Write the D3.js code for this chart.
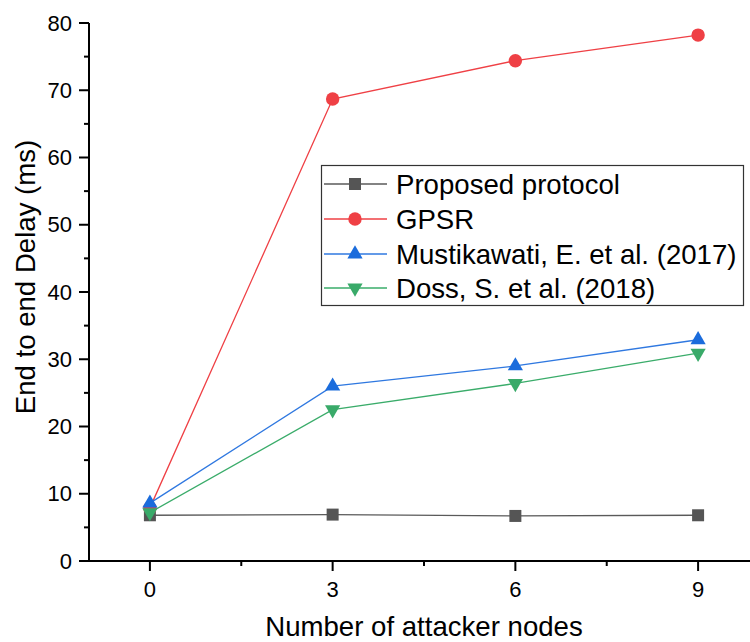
<!DOCTYPE html>
<html>
<head>
<meta charset="utf-8">
<script src="https://cdn.jsdelivr.net/npm/d3@7"></script>
<style>
  html, body { margin: 0; padding: 0; background: #fff; }
  svg { display: block; }
  svg text { font-family: Arial, "Liberation Sans", Arimo, Helvetica, sans-serif; }
</style>
</head>
<body>
<svg id="chart" width="750" height="642"></svg>
<script>
// Number of attacker nodes on the x axis
const attackers = [0, 3, 6, 9];

// End-to-end delay (ms) per protocol
const proposed    = [6.8, 6.9, 6.7, 6.8];
const gpsr        = [7.9, 68.7, 74.4, 78.2];
const mustikawati = [8.6, 26.0, 29.0, 32.9];
const doss        = [7.2, 22.5, 26.4, 30.9];

const seriesNames = [
  "Proposed protocol",
  "GPSR",
  "Mustikawati, E. et al. (2017)",
  "Doss, S. et al. (2018)"
];

const xTicks = [0, 3, 6, 9];
const xMinorTicks = [1.5, 4.5, 7.5];
const yTicks = [0, 10, 20, 30, 40, 50, 60, 70, 80];
const yMinorTicks = [5, 15, 25, 35, 45, 55, 65, 75];

const series = [
  { name: seriesNames[0], values: proposed,    color: "#555555", line: "#5a5a5a", shape: "square" },
  { name: seriesNames[1], values: gpsr,        color: "#ef4045", line: "#ef4045", shape: "circle" },
  { name: seriesNames[2], values: mustikawati, color: "#1b6cdc", line: "#2f78e0", shape: "up" },
  { name: seriesNames[3], values: doss,        color: "#39aa69", line: "#3aac6a", shape: "down" }
];

const FONT = "Arial, 'Liberation Sans', Arimo, Helvetica, sans-serif";
const svg = d3.select("#chart");

const x = d3.scaleLinear().domain([-1, 10]).range([89, 759]);
const y = d3.scaleLinear().domain([0, 80]).range([561, 23]);

// Marker path generators
function markerPath(shape) {
  if (shape === "square") return d3.symbol(d3.symbolSquare, 144)();
  if (shape === "circle") return d3.symbol(d3.symbolCircle, 142)();
  return d3.symbol(d3.symbolTriangle, 100)();
}
function markerTransform(shape, px, py) {
  return shape === "down"
    ? `translate(${px},${py}) scale(1,-1)`
    : `translate(${px},${py})`;
}

// Axes
const axisColor = "#000";
const xAxis = svg.append("g").attr("transform", `translate(0,${y(0)})`);
xAxis.append("line")
  .attr("x1", x(-1)).attr("x2", 760)
  .attr("stroke", axisColor).attr("stroke-width", 2);
xAxis.selectAll(".major").data(xTicks).join("line")
  .attr("x1", d => x(d)).attr("x2", d => x(d))
  .attr("y1", 0).attr("y2", 10)
  .attr("stroke", axisColor).attr("stroke-width", 2);
xAxis.selectAll(".minor").data(xMinorTicks).join("line")
  .attr("x1", d => x(d)).attr("x2", d => x(d))
  .attr("y1", 0).attr("y2", 5)
  .attr("stroke", axisColor).attr("stroke-width", 2);
xAxis.selectAll("text").data(xTicks).join("text")
  .attr("x", d => x(d)).attr("y", 36)
  .attr("text-anchor", "middle")
  .attr("font-family", FONT)
  .attr("font-size", 22)
  .attr("fill", "#000")
  .text(d => d);

const yAxis = svg.append("g").attr("transform", `translate(${x(-1)},0)`);
yAxis.append("line")
  .attr("y1", y(0) + 1).attr("y2", y(80))
  .attr("stroke", axisColor).attr("stroke-width", 2);
yAxis.selectAll(".major").data(yTicks).join("line")
  .attr("y1", d => y(d)).attr("y2", d => y(d))
  .attr("x1", 0).attr("x2", -10)
  .attr("stroke", axisColor).attr("stroke-width", 2);
yAxis.selectAll(".minor").data(yMinorTicks).join("line")
  .attr("y1", d => y(d)).attr("y2", d => y(d))
  .attr("x1", 0).attr("x2", -5)
  .attr("stroke", axisColor).attr("stroke-width", 2);
yAxis.selectAll("text").data(yTicks).join("text")
  .attr("x", -17).attr("y", d => y(d))
  .attr("dy", "0.35em")
  .attr("text-anchor", "end")
  .attr("font-family", FONT)
  .attr("font-size", 22)
  .attr("fill", "#000")
  .text(d => d);

// Axis titles
svg.append("text")
  .attr("x", 424).attr("y", 636)
  .attr("text-anchor", "middle")
  .attr("font-family", FONT)
  .attr("font-size", 27.6)
  .attr("fill", "#000")
  .text("Number of attacker nodes");
svg.append("text")
  .attr("transform", `translate(35,277) rotate(-90)`)
  .attr("text-anchor", "middle")
  .attr("font-family", FONT)
  .attr("font-size", 27.6)
  .attr("fill", "#000")
  .text("End to end Delay (ms)");

// Lines
const line = d3.line().x((d, i) => x(attackers[i])).y(d => y(d));
const plot = svg.append("g");
series.forEach(s => {
  plot.append("path")
    .attr("d", line(s.values))
    .attr("fill", "none")
    .attr("stroke", s.line)
    .attr("stroke-width", 1.3);
});
// Markers
series.forEach(s => {
  plot.selectAll(null).data(s.values).join("path")
    .attr("d", markerPath(s.shape))
    .attr("transform", (d, i) => markerTransform(s.shape, x(attackers[i]), y(d)))
    .attr("fill", s.color);
});

// Legend
const legend = svg.append("g");
legend.append("rect")
  .attr("x", 321.5).attr("y", 165.5)
  .attr("width", 422).attr("height", 140)
  .attr("fill", "#fff")
  .attr("stroke", "#333").attr("stroke-width", 1.2);
const rowY = [184, 219, 254, 288];
series.forEach((s, i) => {
  const g = legend.append("g");
  g.append("line")
    .attr("x1", 324).attr("x2", 387)
    .attr("y1", rowY[i]).attr("y2", rowY[i])
    .attr("stroke", s.line).attr("stroke-width", 1.3);
  g.append("path")
    .attr("d", markerPath(s.shape))
    .attr("transform", markerTransform(s.shape, 355, rowY[i]))
    .attr("fill", s.color);
  g.append("text")
    .attr("x", 396).attr("y", rowY[i])
    .attr("dy", "0.35em")
    .attr("font-family", FONT)
    .attr("font-size", 27.6)
    .attr("fill", "#000")
    .text(s.name);
});
</script>
</body>
</html>
